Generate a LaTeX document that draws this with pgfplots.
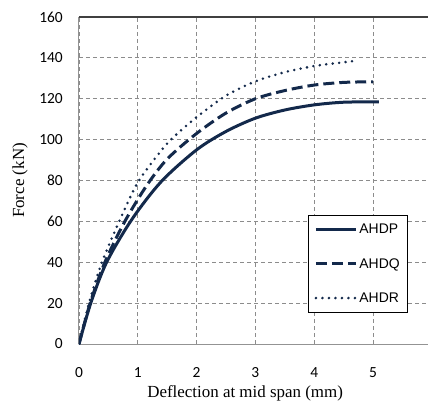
\documentclass[border=0pt]{standalone}
\usepackage{pgfplots}
\pgfplotsset{compat=1.18}
\usepackage{fontspec}
\setmainfont{Liberation Serif}
\newfontfamily\tickfont{Carlito}
\newfontfamily\legfont{Liberation Sans}
\definecolor{navy}{HTML}{13294B}
\definecolor{gridgray}{HTML}{8C8C8C}
\begin{document}
\begin{tikzpicture}
\begin{axis}[
  scale only axis, width=349bp, height=327bp,
  xmin=0, xmax=5.935, ymin=0, ymax=160,
  xtick={0,1,2,3,4,5}, ytick={0,20,...,160},
  axis x line*=bottom, axis y line*=left,
  axis line style={draw=gray!85, line width=1bp, -},
  tick style={draw=none},
  grid=major,
  grid style={gridgray, line width=0.8bp, dash pattern=on 4bp off 3bp},
  ticklabel style={font=\tickfont\fontsize{15.5}{15.5}\selectfont, inner sep=0pt},
  yticklabel style={anchor=east, xshift=-16bp},
  xticklabel style={anchor=north, yshift=-23bp},
  /pgf/number format/assume math mode=true,
  xlabel={Deflection at mid span (mm)},
  ylabel={Force (kN)},
  label style={font=\fontsize{17}{17}\selectfont},
  xlabel style={at={(axis description cs:0.476,0)}, anchor=center, yshift=-49bp},
  ylabel style={at={(axis description cs:-0.169,0.5)}, anchor=center},
  legend style={at={(0.943,0.395)}, anchor=north east, draw=black, line width=0.8bp,
    fill=white, font=\legfont\fontsize{14}{14}\selectfont, row sep=19bp,
    inner xsep=6bp, inner ysep=7bp},
  legend cell align=left,
  legend image code/.code={\draw[#1] (0bp,0bp) -- (40bp,0bp);},
]
\addplot[navy, line width=3bp, smooth] coordinates {
 (0,0) (0.2,20) (0.47,40) (0.9,61) (1.4,79.5) (2.0,95) (2.5,104)
 (3.0,110.5) (3.5,114.5) (4.0,117) (4.5,118.3) (5.1,118.5)};
\addlegendentry{AHDP}
\addplot[navy, line width=3bp, dash pattern=on 11bp off 5bp, smooth] coordinates {
 (0,0) (0.19,20) (0.44,40) (0.78,60) (1.15,77.5) (1.5,90.5) (2.0,103)
 (2.5,113) (3.0,120) (3.5,124) (4.0,126.7) (4.5,128) (5.0,128.3)};
\addlegendentry{AHDQ}
\addplot[navy, line width=2.8bp, line cap=round, dash pattern=on 0bp off 6.5bp, smooth] coordinates {
 (0,0) (0.17,20) (0.39,40) (0.7,61) (1.0,79) (1.38,94) (1.6,101) (2.0,111)
 (2.5,121.5) (3.0,128.5) (3.5,133) (4.0,136) (4.4,137.5) (4.75,138.7)};
\addlegendentry{AHDR}
\draw[draw=black!75, line width=1.2bp] (rel axis cs:0,1) -- (rel axis cs:1,1);
\coordinate (bl) at (rel axis cs:0,0);
\coordinate (tr) at (rel axis cs:1,1);
\end{axis}
\pgfresetboundingbox
\path ([xshift=-79bp,yshift=-62bp]bl) rectangle ([yshift=17bp]tr);
\end{tikzpicture}
\end{document}
